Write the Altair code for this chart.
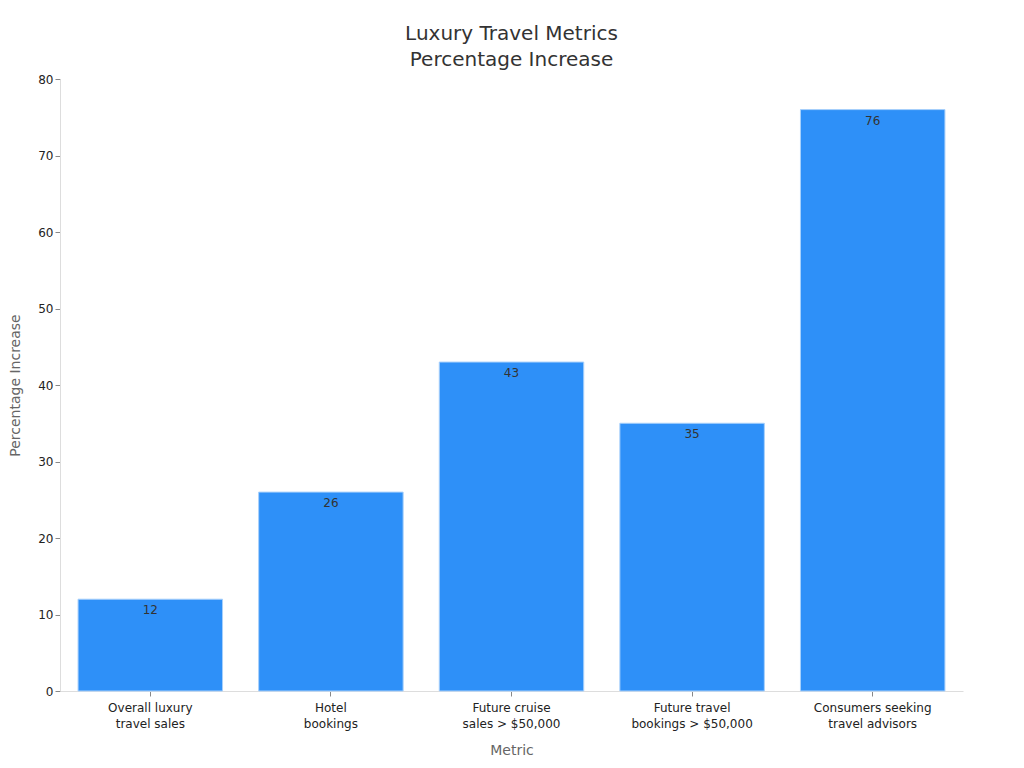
import altair as alt
import pandas as pd

metrics = ["Overall luxury\ntravel sales", "Hotel\nbookings", "Future cruise\nsales > $50,000",
           "Future travel\nbookings > $50,000", "Consumers seeking\ntravel advisors"]
values = [12, 26, 43, 35, 76]

df = pd.DataFrame({"Metric": metrics, "Value": values})

x = alt.X("Metric:N", sort=metrics, title="Metric",
          scale=alt.Scale(paddingInner=0.2, paddingOuter=0.1),
          axis=alt.Axis(labelAngle=0, labelExpr="split(datum.label, '\\n')",
                        labelFontSize=12, labelColor="#222", labelFont="DejaVu Sans",
                        labelLineHeight=16,
                        titleFontSize=14, titleColor="#666", titleFontWeight="normal",
                        titleFont="DejaVu Sans", titlePadding=14, labelPadding=6,
                        domainColor="#ddd", tickColor="#888"))
y = alt.Y("Value:Q", title="Percentage Increase",
          scale=alt.Scale(domain=[0, 80]),
          axis=alt.Axis(tickCount=8, grid=False, labelFontSize=12, labelColor="#222",
                        labelFont="DejaVu Sans", titleFontSize=14, titleColor="#666",
                        titleFontWeight="normal", titleFont="DejaVu Sans",
                        domainColor="#ddd", tickColor="#888", titlePadding=15))

bars = alt.Chart(df).mark_bar(color="#2E90F8", stroke="#a8d0fb", strokeWidth=1).encode(x=x, y=y)
labels = alt.Chart(df).mark_text(baseline="top", dy=6, fontSize=12, color="#333",
                                 font="DejaVu Sans").encode(
    x=alt.X("Metric:N", sort=metrics), y="Value:Q", text="Value:Q")

chart = (bars + labels).properties(
    width=903, height=612,
    background="white",
    padding={"top": 16, "left": 0, "right": 5, "bottom": 5},
    title=alt.TitleParams(["Luxury Travel Metrics", "Percentage Increase"], fontSize=20,
                          font="DejaVu Sans", fontWeight="normal", color="#333",
                          anchor="middle", offset=3, lineHeight=26)
).configure_view(strokeWidth=0, stroke=None)

chart.save("out.html", embed_options={"renderer": "svg", "actions": False})
